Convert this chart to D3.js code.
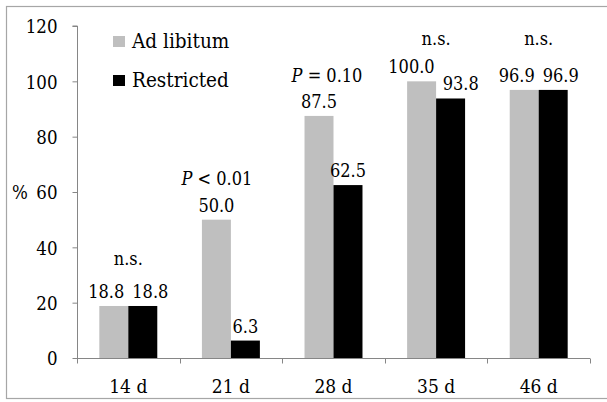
<!DOCTYPE html>
<html>
<head>
<meta charset="utf-8">
<script src="https://cdn.jsdelivr.net/npm/d3@7"></script>
<style>
  html, body { margin: 0; padding: 0; background: #fff; }
  svg { display: block; }
  svg text { font-family: 'DejaVu Serif Condensed', 'DejaVu Serif', serif; font-stretch: condensed; fill: #000; }
</style>
</head>
<body>
<svg id="chart" width="607" height="402"></svg>
<script>
// ---- data ----
const categories = ["14 d", "21 d", "28 d", "35 d", "46 d"];
const seriesNames = ["Ad libitum", "Restricted"];
const adLibitum = [18.8, 50.0, 87.5, 100.0, 96.9];
const restricted = [18.8, 6.3, 62.5, 93.8, 96.9];
const valueLabels = [["18.8", "50.0", "87.5", "100.0", "96.9"], ["18.8", "6.3", "62.5", "93.8", "96.9"]];
const annotations = ["n.s.", "P < 0.01", "P = 0.10", "n.s.", "n.s."];
const annotationLevel = [33.6, 62.5, 99.9, 113.1, 113.1];
const yTicks = [0, 20, 40, 60, 80, 100, 120];
const yLabel = "%";

// ---- style ----
const FONT = "'DejaVu Serif Condensed', 'DejaVu Serif', serif";
const colors = ["#bfbfbf", "#000000"];
const axisColor = "#868686";
const annotationDx = [0, -14, -6.5, 0, 0];

const svg = d3.select("#chart");

svg.append("rect")
  .attr("x", 6.5).attr("y", 6.5)
  .attr("width", 640).attr("height", 392)
  .attr("fill", "none").attr("stroke", "#a6a6a6").attr("stroke-width", 1.2);

const plot = { left: 77, right: 590, top: 26, bottom: 358 };

const x = d3.scaleBand().domain(categories).range([plot.left, plot.right]).padding(0);
const xs = d3.scaleBand().domain([0, 1]).range([0, x.bandwidth()]).paddingInner(0).paddingOuter(0.77);
const y = d3.scaleLinear().domain([0, 120]).range([plot.bottom, plot.top]);

const series = [adLibitum, restricted];

series.forEach((vals, si) => {
  svg.append("g").selectAll("rect")
    .data(vals)
    .join("rect")
    .attr("x", (d, i) => x(categories[i]) + xs(si))
    .attr("y", d => y(d))
    .attr("width", xs.bandwidth())
    .attr("height", d => y(0) - y(d))
    .attr("fill", colors[si]);
});

// y axis
const yAxis = d3.axisLeft(y).tickValues(yTicks).tickSize(5).tickPadding(15).tickFormat(d3.format("d"));
const gy = svg.append("g").attr("transform", `translate(${plot.left + 0.5},0)`).call(yAxis);
gy.attr("font-family", FONT).attr("font-size", 18.5);
gy.select(".domain").attr("stroke", axisColor).attr("d", `M-5,${y(120)}H0V${y(0)}`);
gy.selectAll(".tick line").attr("stroke", axisColor);
gy.selectAll(".tick text").attr("fill", "#000").attr("dy", "0.36em");

// x axis
const gx = svg.append("g").attr("transform", `translate(0,${plot.bottom + 0.5})`);
gx.append("line").attr("x1", plot.left).attr("x2", plot.right).attr("y1", 0).attr("y2", 0).attr("stroke", axisColor);
const bounds = categories.map(c => x(c)).concat([x(categories[categories.length - 1]) + x.bandwidth()]);
gx.selectAll("line.tk").data(bounds).join("line").attr("class", "tk")
  .attr("x1", d => Math.round(d) + 0.5).attr("x2", d => Math.round(d) + 0.5)
  .attr("y1", 0).attr("y2", 5).attr("stroke", axisColor);
gx.selectAll("text").data(categories).join("text")
  .attr("x", d => x(d) + x.bandwidth() / 2)
  .attr("y", 34.5)
  .attr("text-anchor", "middle")
  .attr("font-size", 19)
  .text(d => d);

// y label
svg.append("text").attr("x", 12).attr("y", y(60) + 7).attr("font-size", 18.5).text(yLabel);

// value labels
const labelGroups = series.map((vals, si) =>
  svg.append("g").selectAll("text")
    .data(vals)
    .join("text")
    .attr("x", (d, i) => x(categories[i]) + xs(si) + xs.bandwidth() / 2)
    .attr("y", d => y(d) - 8)
    .attr("text-anchor", "middle")
    .attr("font-size", 18)
    .text((d, i) => valueLabels[si][i])
    .nodes()
);
// push apart labels of the same category that collide
categories.forEach((c, i) => {
  const a = labelGroups[0][i], b = labelGroups[1][i];
  const ba = a.getBBox(), bb = b.getBBox();
  const vOverlap = ba.y < bb.y + bb.height && bb.y < ba.y + ba.height;
  const gap = bb.x - (ba.x + ba.width);
  const minGap = 8;
  if (vOverlap && gap < minGap) {
    const s = (minGap - gap) / 2;
    d3.select(a).attr("x", +a.getAttribute("x") - s);
    d3.select(b).attr("x", +b.getAttribute("x") + s);
  }
});

// annotations
annotations.forEach((a, i) => {
  const t = svg.append("text")
    .attr("x", x(categories[i]) + x.bandwidth() / 2 + annotationDx[i])
    .attr("y", y(annotationLevel[i]))
    .attr("text-anchor", "middle")
    .attr("font-size", 18);
  if (a.startsWith("P")) {
    t.append("tspan").attr("font-style", "italic").text("P");
    t.append("tspan").text(a.slice(1));
  } else {
    t.text(a);
  }
});

// legend
const lg = svg.append("g");
seriesNames.forEach((n, i) => {
  lg.append("rect").attr("x", 113).attr("y", 36 + i * 39).attr("width", 12).attr("height", 11).attr("fill", colors[i]);
  lg.append("text").attr("x", 132).attr("y", 48 + i * 39).attr("font-size", 20.5).text(n);
});
</script>
</body>
</html>
